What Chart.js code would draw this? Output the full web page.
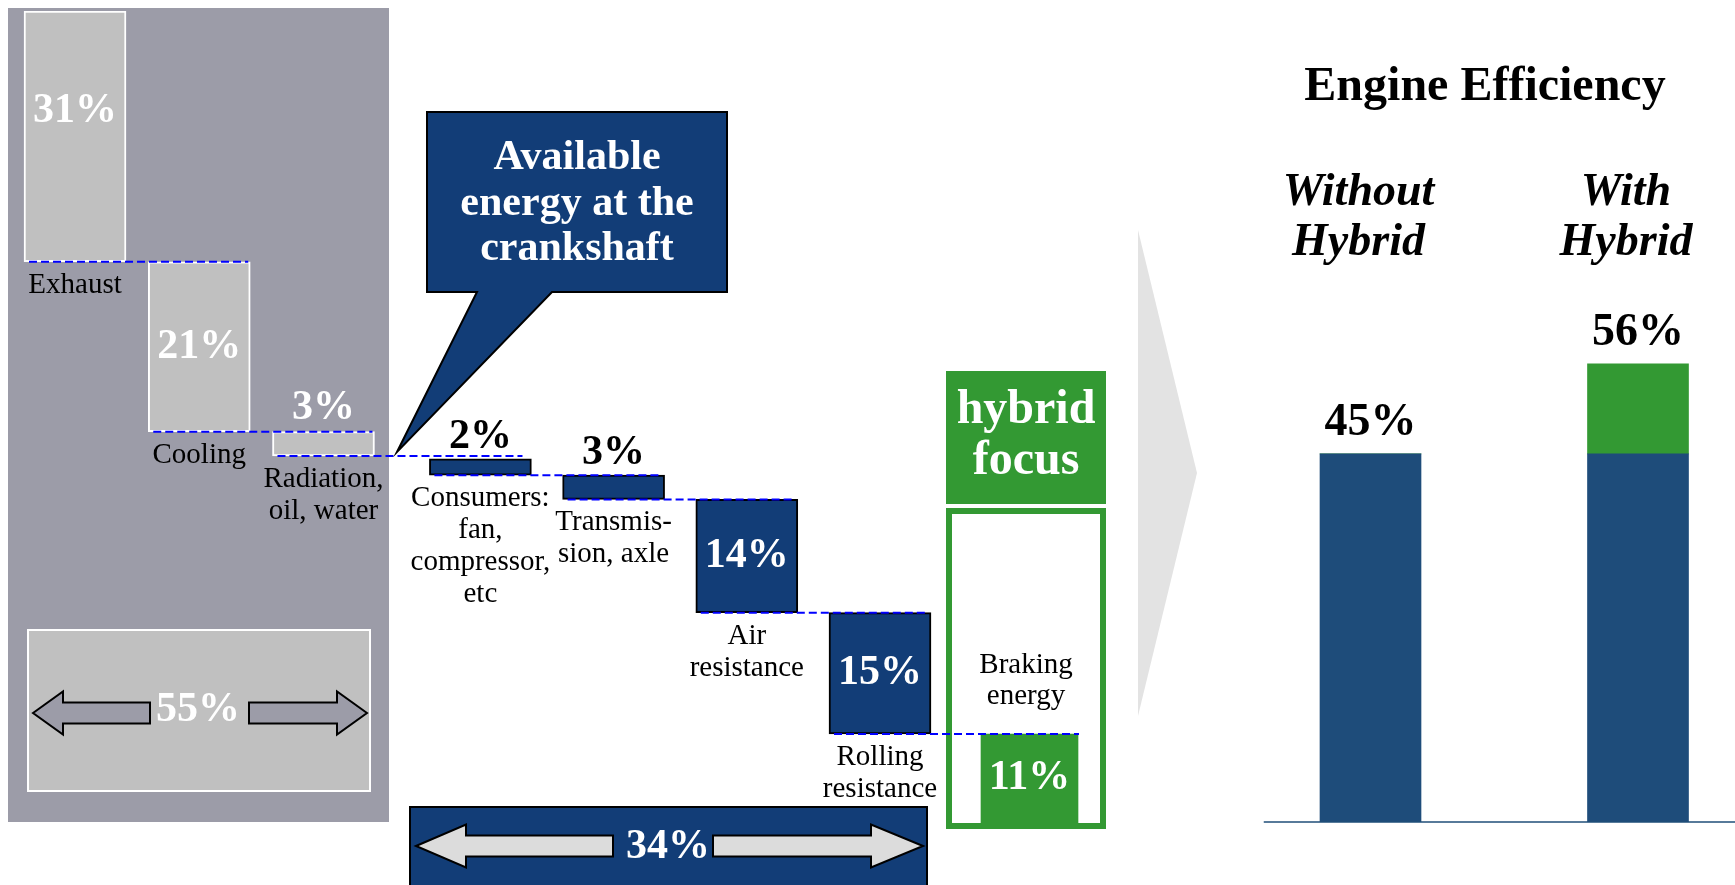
<!DOCTYPE html>
<html>
<head>
<meta charset="utf-8">
<title>Engine energy flow</title>
<script src="https://cdn.jsdelivr.net/npm/chart.js@4.4.1/dist/chart.umd.min.js"></script>
<style>
  html, body { margin: 0; padding: 0; background: #fff; overflow: hidden; }
  #wrap { position: relative; width: 1735px; height: 885px; overflow: hidden; }
  canvas { position: absolute; left: 0; top: 0; }
</style>
</head>
<body>
<div id="wrap">
  <canvas id="lossChart" width="1800" height="885"></canvas>
  <canvas id="brakeChart" width="1800" height="885"></canvas>
  <canvas id="driveChart" width="1800" height="885"></canvas>
  <canvas id="effChart" width="1800" height="885"></canvas>
</div>
<script>
// heat losses (grey part of the waterfall)
const lossLabels = [["Exhaust"], ["Cooling"], ["Radiation,", "oil, water"]];
const lossValues = [31, 21, 3];

// losses after the crankshaft
const driveLabels = [
  ["Consumers:", "fan,", "compressor,", "etc"],
  ["Transmis-", "sion, axle"],
  ["Air", "resistance"],
  ["Rolling", "resistance"],
];
const driveValues = [2, 3, 14, 15];

// recoverable part
const brakeLabels = [["Braking", "energy"]];
const brakeValues = [11];

// engine efficiency
const effLabels = [["Without", "Hybrid"], ["With", "Hybrid"]];
const effEngine = [45, 45];
const effHybrid = [0, 11];

const calloutLines = ["Available", "energy at the", "crankshaft"];
const focusLines = ["hybrid", "focus"];
const effTitle = "Engine Efficiency";

const SERIF = '"Liberation Serif", "Times New Roman", serif';
const NAVY = "#123d77";
const BLUE = "#1e4c7a";
const GREEN = "#339933";
const PANEL = "#9c9ca8";

function steps(values, start) {
  let top = start;
  return values.map((v) => {
    const bar = [top - v, top];
    top -= v;
    return bar;
  });
}

const lossBars = steps(lossValues, 100);
const driveBars = steps(driveValues, lossBars[lossBars.length - 1][0]);
const brakeBars = steps(brakeValues, driveBars[driveBars.length - 1][0]);
const sum = (arr) => arr.reduce((a, b) => a + b, 0);

function text(ctx, str, x, y, font, color, baseline) {
  ctx.save();
  ctx.font = font + " " + SERIF;
  ctx.fillStyle = color;
  ctx.textAlign = "center";
  ctx.textBaseline = baseline || "alphabetic";
  ctx.fillText(str, x, y);
  ctx.restore();
}

function dashed(ctx, x1, x2, y) {
  ctx.save();
  ctx.strokeStyle = "#0000ff";
  ctx.lineWidth = 2;
  ctx.setLineDash([8, 4]);
  ctx.beginPath();
  ctx.moveTo(x1, y);
  ctx.lineTo(x2, y);
  ctx.stroke();
  ctx.restore();
}

function poly(ctx, pts, fill, stroke, lw) {
  ctx.save();
  ctx.beginPath();
  pts.forEach((p, i) => (i ? ctx.lineTo(p[0], p[1]) : ctx.moveTo(p[0], p[1])));
  ctx.closePath();
  ctx.fillStyle = fill;
  ctx.fill();
  if (stroke) {
    ctx.strokeStyle = stroke;
    ctx.lineWidth = lw || 2;
    ctx.lineJoin = "miter";
    ctx.stroke();
  }
  ctx.restore();
}

function arrow(ctx, tipX, tailX, cy, head, fill) {
  const d = tailX > tipX ? 1 : -1;
  const hx = tipX + d * head;
  poly(ctx, [
    [tipX, cy], [hx, cy - 21.5], [hx, cy - 10.5], [tailX, cy - 10.5],
    [tailX, cy + 10.5], [hx, cy + 10.5], [hx, cy + 21.5],
  ], fill, "#000", 2);
}

function box(el) {
  const p = el.getProps(["x", "y", "base", "width"], true);
  return {
    x: p.x,
    left: p.x - p.width / 2,
    right: p.x + p.width / 2,
    top: Math.min(p.y, p.base),
    bottom: Math.max(p.y, p.base),
  };
}

function options(pad) {
  return {
    responsive: false,
    animation: false,
    events: [],
    layout: { padding: pad },
    plugins: { legend: { display: false }, tooltip: { enabled: false } },
    scales: {
      x: { display: false, offset: true },
      y: { display: false, min: 0, max: 100 },
    },
  };
}

const lossDeco = {
  id: "lossDeco",
  beforeDatasetsDraw(chart) {
    const ctx = chart.ctx;
    ctx.save();
    ctx.fillStyle = PANEL;
    ctx.fillRect(8, 8, 381, 814);
    ctx.fillStyle = "#c0c0c0";
    ctx.fillRect(27, 629, 344, 163);
    ctx.strokeStyle = "#fff";
    ctx.lineWidth = 2;
    ctx.strokeRect(28, 630, 342, 161);
    ctx.restore();
    arrow(ctx, 33, 150, 713, 30, PANEL);
    arrow(ctx, 367, 249, 713, 30, PANEL);
    text(ctx, sum(lossValues) + "%", 198, 710, "bold 42px", "#fff", "middle");
  },
  afterDatasetsDraw(chart) {
    const ctx = chart.ctx;
    const bars = chart.getDatasetMeta(0).data.map(box);
    bars.forEach((b, i) => {
      const next = bars[i + 1];
      dashed(ctx, b.left + 5, next ? next.right - 2 : b.right + 148, b.bottom);
    });
    bars.forEach((b, i) => {
      const h = b.bottom - b.top;
      const label = lossValues[i] + "%";
      if (h > 40) {
        text(ctx, label, b.x, b.top + Math.min(h / 2, 100), "bold 42px", "#fff", "middle");
      } else {
        text(ctx, label, b.x, b.top - 13, "bold 42px", "#fff");
      }
      lossLabels[i].forEach((line, k) => {
        text(ctx, line, b.x, b.bottom + 31 + 32 * k, "29px", "#000");
      });
    });
  },
};

const driveDeco = {
  id: "driveDeco",
  beforeDatasetsDraw(chart) {
    const ctx = chart.ctx;
    // 34% box
    ctx.save();
    ctx.fillStyle = NAVY;
    ctx.fillRect(410, 807, 517, 90);
    ctx.strokeStyle = "#000";
    ctx.lineWidth = 2;
    ctx.strokeRect(410, 807, 517, 90);
    ctx.restore();
    arrow(ctx, 416, 613, 846, 50, "#dcdcdc");
    arrow(ctx, 923, 713, 846, 52, "#dcdcdc");
    text(ctx, sum(driveValues) + "%", 668, 847, "bold 42px", "#fff", "middle");

    // callout
    poly(ctx, [
      [427, 112], [727, 112], [727, 292], [552, 292],
      [397, 452], [477, 292], [427, 292],
    ], NAVY, "#000", 2);
    calloutLines.forEach((line, k) => {
      text(ctx, line, 577, 169 + 45.5 * k, "bold 42px", "#fff");
    });
  },
  afterDatasetsDraw(chart) {
    const ctx = chart.ctx;
    const bars = chart.getDatasetMeta(0).data.map(box);
    bars.forEach((b, i) => {
      const next = bars[i + 1];
      dashed(ctx, b.left + 5, next ? next.right - 3 : b.right + 148, b.bottom);
    });
    bars.forEach((b, i) => {
      const h = b.bottom - b.top;
      const label = driveValues[i] + "%";
      if (h > 40) {
        text(ctx, label, b.x, b.top + h / 2, "bold 42px", "#fff", "middle");
      } else {
        text(ctx, label, b.x, b.top - 11, "bold 42px", "#000");
      }
      driveLabels[i].forEach((line, k) => {
        text(ctx, line, b.x, b.bottom + 31 + 32 * k, "29px", "#000");
      });
    });
  },
};

const brakeDeco = {
  id: "brakeDeco",
  beforeDatasetsDraw(chart) {
    const ctx = chart.ctx;
    const b = box(chart.getDatasetMeta(0).data[0]);
    ctx.save();
    ctx.fillStyle = GREEN;
    ctx.fillRect(946, 371, 160, 133);
    ctx.fillStyle = "#fff";
    ctx.fillRect(946, 508, 160, b.bottom + 5 - 508);
    ctx.strokeStyle = GREEN;
    ctx.lineWidth = 6;
    ctx.strokeRect(949, 511, 154, b.bottom + 3 - 511);
    ctx.restore();
    focusLines.forEach((line, k) => {
      text(ctx, line, 1026, 423 + 51 * k, "bold 48px", "#fff");
    });
  },
  afterDatasetsDraw(chart) {
    const ctx = chart.ctx;
    chart.getDatasetMeta(0).data.map(box).forEach((b, i) => {
      text(ctx, brakeValues[i] + "%", b.x, (b.top + b.bottom) / 2, "bold 42px", "#fff", "middle");
      brakeLabels[i].forEach((line, k) => {
        text(ctx, line, 1026, b.bottom - 150 + 31 * k, "29px", "#000");
      });
    });
  },
};

const effDeco = {
  id: "effDeco",
  beforeDraw(chart) {
    poly(chart.ctx, [[1138, 230], [1197, 473], [1138, 716]], "#e3e3e3");
  },
  afterDatasetsDraw(chart) {
    const ctx = chart.ctx;
    const x = chart.scales.x;
    const y = chart.scales.y;
    const y0 = y.getPixelForValue(0);
    ctx.save();
    ctx.strokeStyle = "#1f4e79";
    ctx.lineWidth = 1.5;
    ctx.beginPath();
    ctx.moveTo(chart.chartArea.left + 27, y0);
    ctx.lineTo(1735, y0);
    ctx.stroke();
    ctx.restore();

    text(ctx, effTitle, 1485, 100, "bold 48px", "#000");
    effLabels.forEach((lines, i) => {
      const cx = x.getPixelForValue(i);
      lines.forEach((line, k) => {
        text(ctx, line, cx - 12, 205 + 50 * k, "italic bold 46px", "#000");
      });
      const total = effEngine[i] + effHybrid[i];
      text(ctx, total + "%", cx, y.getPixelForValue(total) - 19, "bold 46px", "#000");
    });
  },
};

function drawCharts() {
  new Chart(document.getElementById("lossChart"), {
    type: "bar",
    data: {
      labels: lossLabels,
      datasets: [
        {
          data: lossBars,
          backgroundColor: "#c0c0c0",
          borderColor: "#ffffff",
          borderWidth: 2,
          borderSkipped: false,
          barThickness: 102,
        },
      ],
    },
    options: options({ left: 12.9, right: 1414.4, top: 11, bottom: 65 }),
    plugins: [lossDeco],
  });

  new Chart(document.getElementById("brakeChart"), {
    type: "bar",
    data: {
      labels: brakeLabels,
      datasets: [
        {
          data: brakeBars,
          backgroundColor: GREEN,
          borderWidth: 0,
          barThickness: 97,
        },
      ],
    },
    options: options({ left: 979.5, right: 720.5, top: 14, bottom: 62 }),
    plugins: [brakeDeco],
  });

  new Chart(document.getElementById("driveChart"), {
    type: "bar",
    data: {
      labels: driveLabels,
      datasets: [
        {
          data: driveBars,
          backgroundColor: NAVY,
          borderColor: "#000000",
          borderWidth: 2,
          borderSkipped: false,
          barThickness: 102,
        },
      ],
    },
    options: options({ left: 413.8, right: 853.4, top: 14, bottom: 62 }),
    plugins: [driveDeco],
  });

  const effOpts = options({ left: 1236.75, right: 28.25, top: 4, bottom: 63 });
  effOpts.scales.x.stacked = true;
  effOpts.scales.y.stacked = true;
  new Chart(document.getElementById("effChart"), {
    type: "bar",
    data: {
      labels: effLabels,
      datasets: [
        { label: "Engine", data: effEngine, backgroundColor: BLUE, barThickness: 101 },
        { label: "Hybrid", data: effHybrid, backgroundColor: GREEN, barThickness: 101 },
      ],
    },
    options: effOpts,
    plugins: [effDeco],
  });
}

Promise.all([
  document.fonts.load("29px " + SERIF),
  document.fonts.load("bold 42px " + SERIF),
  document.fonts.load("italic bold 46px " + SERIF),
]).then(drawCharts, drawCharts);
</script>
</body>
</html>
